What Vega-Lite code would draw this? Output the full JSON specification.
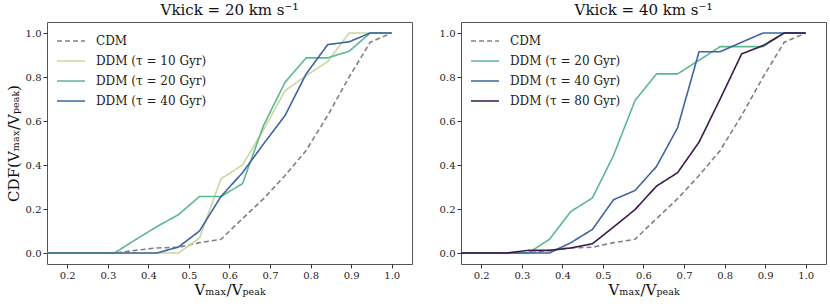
{
  "$schema": "https://vega.github.io/schema/vega-lite/v6.json",
  "padding": {"left": 5, "top": 2, "right": 4, "bottom": 2},
  "background": "white",
  "config": {
    "font": "DejaVu Serif",
    "view": {"stroke": "#555555", "strokeWidth": 1},
    "axis": {"grid": false, "domain": false, "tickColor": "#333333", "tickSize": 4, "labelFont": "DejaVu Serif", "titleFont": "DejaVu Serif", "labelFontSize": 10, "labelColor": "#222222", "titleFontSize": 15, "titleFontWeight": "normal", "titleColor": "#111111", "labelPadding": 2},
    "title": {"font": "DejaVu Serif", "fontSize": 15, "fontWeight": "normal", "color": "#111111", "offset": 4},
    "legend": {"orient": "top-left", "offset": 9, "padding": 0, "symbolType": "stroke", "symbolSize": 784, "clipHeight": 20, "rowPadding": 0, "labelFont": "DejaVu Serif", "labelFontSize": 12, "labelOffset": 10, "labelColor": "#222222", "symbolStrokeWidth": 1.6}
  },
  "bounds": "flush",
  "spacing": 49,
  "data": {"values": [
    {"p":"L","s":"CDM","x":0.105,"y":0},{"p":"L","s":"CDM","x":0.316,"y":0},{"p":"L","s":"CDM","x":0.368,"y":0.012},{"p":"L","s":"CDM","x":0.421,"y":0.023},{"p":"L","s":"CDM","x":0.474,"y":0.026},{"p":"L","s":"CDM","x":0.526,"y":0.047},{"p":"L","s":"CDM","x":0.579,"y":0.062},{"p":"L","s":"CDM","x":0.632,"y":0.156},{"p":"L","s":"CDM","x":0.684,"y":0.247},{"p":"L","s":"CDM","x":0.737,"y":0.352},{"p":"L","s":"CDM","x":0.789,"y":0.466},{"p":"L","s":"CDM","x":0.842,"y":0.625},{"p":"L","s":"CDM","x":0.895,"y":0.8},{"p":"L","s":"CDM","x":0.947,"y":0.958},{"p":"L","s":"CDM","x":1.0,"y":1.0},
    {"p":"L","s":"DDM (τ = 10 Gyr)","x":0.105,"y":0},{"p":"L","s":"DDM (τ = 10 Gyr)","x":0.474,"y":0},{"p":"L","s":"DDM (τ = 10 Gyr)","x":0.526,"y":0.068},{"p":"L","s":"DDM (τ = 10 Gyr)","x":0.579,"y":0.337},{"p":"L","s":"DDM (τ = 10 Gyr)","x":0.632,"y":0.4},{"p":"L","s":"DDM (τ = 10 Gyr)","x":0.684,"y":0.56},{"p":"L","s":"DDM (τ = 10 Gyr)","x":0.737,"y":0.738},{"p":"L","s":"DDM (τ = 10 Gyr)","x":0.789,"y":0.806},{"p":"L","s":"DDM (τ = 10 Gyr)","x":0.842,"y":0.87},{"p":"L","s":"DDM (τ = 10 Gyr)","x":0.895,"y":1.0},{"p":"L","s":"DDM (τ = 10 Gyr)","x":0.947,"y":1.0},{"p":"L","s":"DDM (τ = 10 Gyr)","x":1.0,"y":1.0},
    {"p":"L","s":"DDM (τ = 20 Gyr)","x":0.105,"y":0},{"p":"L","s":"DDM (τ = 20 Gyr)","x":0.316,"y":0},{"p":"L","s":"DDM (τ = 20 Gyr)","x":0.368,"y":0.06},{"p":"L","s":"DDM (τ = 20 Gyr)","x":0.421,"y":0.12},{"p":"L","s":"DDM (τ = 20 Gyr)","x":0.474,"y":0.174},{"p":"L","s":"DDM (τ = 20 Gyr)","x":0.526,"y":0.257},{"p":"L","s":"DDM (τ = 20 Gyr)","x":0.579,"y":0.257},{"p":"L","s":"DDM (τ = 20 Gyr)","x":0.632,"y":0.315},{"p":"L","s":"DDM (τ = 20 Gyr)","x":0.684,"y":0.58},{"p":"L","s":"DDM (τ = 20 Gyr)","x":0.737,"y":0.776},{"p":"L","s":"DDM (τ = 20 Gyr)","x":0.789,"y":0.887},{"p":"L","s":"DDM (τ = 20 Gyr)","x":0.842,"y":0.887},{"p":"L","s":"DDM (τ = 20 Gyr)","x":0.895,"y":0.917},{"p":"L","s":"DDM (τ = 20 Gyr)","x":0.947,"y":1.0},{"p":"L","s":"DDM (τ = 20 Gyr)","x":1.0,"y":1.0},
    {"p":"L","s":"DDM (τ = 40 Gyr)","x":0.105,"y":0},{"p":"L","s":"DDM (τ = 40 Gyr)","x":0.421,"y":0},{"p":"L","s":"DDM (τ = 40 Gyr)","x":0.474,"y":0.027},{"p":"L","s":"DDM (τ = 40 Gyr)","x":0.526,"y":0.1},{"p":"L","s":"DDM (τ = 40 Gyr)","x":0.579,"y":0.257},{"p":"L","s":"DDM (τ = 40 Gyr)","x":0.632,"y":0.365},{"p":"L","s":"DDM (τ = 40 Gyr)","x":0.684,"y":0.496},{"p":"L","s":"DDM (τ = 40 Gyr)","x":0.737,"y":0.625},{"p":"L","s":"DDM (τ = 40 Gyr)","x":0.789,"y":0.814},{"p":"L","s":"DDM (τ = 40 Gyr)","x":0.842,"y":0.947},{"p":"L","s":"DDM (τ = 40 Gyr)","x":0.895,"y":0.96},{"p":"L","s":"DDM (τ = 40 Gyr)","x":0.947,"y":1.0},{"p":"L","s":"DDM (τ = 40 Gyr)","x":1.0,"y":1.0},
    {"p":"R","s":"CDM","x":0.105,"y":0},{"p":"R","s":"CDM","x":0.316,"y":0},{"p":"R","s":"CDM","x":0.368,"y":0.012},{"p":"R","s":"CDM","x":0.421,"y":0.023},{"p":"R","s":"CDM","x":0.474,"y":0.026},{"p":"R","s":"CDM","x":0.526,"y":0.047},{"p":"R","s":"CDM","x":0.579,"y":0.062},{"p":"R","s":"CDM","x":0.632,"y":0.156},{"p":"R","s":"CDM","x":0.684,"y":0.247},{"p":"R","s":"CDM","x":0.737,"y":0.352},{"p":"R","s":"CDM","x":0.789,"y":0.466},{"p":"R","s":"CDM","x":0.842,"y":0.625},{"p":"R","s":"CDM","x":0.895,"y":0.8},{"p":"R","s":"CDM","x":0.947,"y":0.958},{"p":"R","s":"CDM","x":1.0,"y":1.0},
    {"p":"R","s":"DDM (τ = 20 Gyr)","x":0.105,"y":0},{"p":"R","s":"DDM (τ = 20 Gyr)","x":0.316,"y":0},{"p":"R","s":"DDM (τ = 20 Gyr)","x":0.368,"y":0.062},{"p":"R","s":"DDM (τ = 20 Gyr)","x":0.421,"y":0.189},{"p":"R","s":"DDM (τ = 20 Gyr)","x":0.474,"y":0.25},{"p":"R","s":"DDM (τ = 20 Gyr)","x":0.526,"y":0.443},{"p":"R","s":"DDM (τ = 20 Gyr)","x":0.579,"y":0.693},{"p":"R","s":"DDM (τ = 20 Gyr)","x":0.632,"y":0.814},{"p":"R","s":"DDM (τ = 20 Gyr)","x":0.684,"y":0.814},{"p":"R","s":"DDM (τ = 20 Gyr)","x":0.737,"y":0.876},{"p":"R","s":"DDM (τ = 20 Gyr)","x":0.789,"y":0.938},{"p":"R","s":"DDM (τ = 20 Gyr)","x":0.842,"y":0.938},{"p":"R","s":"DDM (τ = 20 Gyr)","x":0.895,"y":0.938},{"p":"R","s":"DDM (τ = 20 Gyr)","x":0.947,"y":1.0},{"p":"R","s":"DDM (τ = 20 Gyr)","x":1.0,"y":1.0},
    {"p":"R","s":"DDM (τ = 40 Gyr)","x":0.105,"y":0},{"p":"R","s":"DDM (τ = 40 Gyr)","x":0.368,"y":0},{"p":"R","s":"DDM (τ = 40 Gyr)","x":0.421,"y":0.047},{"p":"R","s":"DDM (τ = 40 Gyr)","x":0.474,"y":0.107},{"p":"R","s":"DDM (τ = 40 Gyr)","x":0.526,"y":0.242},{"p":"R","s":"DDM (τ = 40 Gyr)","x":0.579,"y":0.284},{"p":"R","s":"DDM (τ = 40 Gyr)","x":0.632,"y":0.393},{"p":"R","s":"DDM (τ = 40 Gyr)","x":0.684,"y":0.569},{"p":"R","s":"DDM (τ = 40 Gyr)","x":0.737,"y":0.915},{"p":"R","s":"DDM (τ = 40 Gyr)","x":0.789,"y":0.915},{"p":"R","s":"DDM (τ = 40 Gyr)","x":0.842,"y":0.958},{"p":"R","s":"DDM (τ = 40 Gyr)","x":0.895,"y":1.0},{"p":"R","s":"DDM (τ = 40 Gyr)","x":0.947,"y":1.0},{"p":"R","s":"DDM (τ = 40 Gyr)","x":1.0,"y":1.0},
    {"p":"R","s":"DDM (τ = 80 Gyr)","x":0.105,"y":0},{"p":"R","s":"DDM (τ = 80 Gyr)","x":0.263,"y":0},{"p":"R","s":"DDM (τ = 80 Gyr)","x":0.316,"y":0.012},{"p":"R","s":"DDM (τ = 80 Gyr)","x":0.368,"y":0.012},{"p":"R","s":"DDM (τ = 80 Gyr)","x":0.421,"y":0.023},{"p":"R","s":"DDM (τ = 80 Gyr)","x":0.474,"y":0.042},{"p":"R","s":"DDM (τ = 80 Gyr)","x":0.526,"y":0.118},{"p":"R","s":"DDM (τ = 80 Gyr)","x":0.579,"y":0.197},{"p":"R","s":"DDM (τ = 80 Gyr)","x":0.632,"y":0.304},{"p":"R","s":"DDM (τ = 80 Gyr)","x":0.684,"y":0.365},{"p":"R","s":"DDM (τ = 80 Gyr)","x":0.737,"y":0.504},{"p":"R","s":"DDM (τ = 80 Gyr)","x":0.789,"y":0.7},{"p":"R","s":"DDM (τ = 80 Gyr)","x":0.842,"y":0.905},{"p":"R","s":"DDM (τ = 80 Gyr)","x":0.895,"y":0.943},{"p":"R","s":"DDM (τ = 80 Gyr)","x":0.947,"y":1.0},{"p":"R","s":"DDM (τ = 80 Gyr)","x":1.0,"y":1.0}
  ]},
  "resolve": {"scale": {"color": "independent", "strokeDash": "independent"}, "legend": {"color": "independent", "strokeDash": "independent"}},
  "hconcat": [
    {
      "width": 365, "height": 242,
      "title": "Vkick = 20 km s⁻¹",
      "transform": [{"filter": "datum.p === 'L'"}],
      "mark": {"type": "line", "strokeWidth": 1.6, "clip": true},
      "encoding": {
        "x": {"field": "x", "type": "quantitative", "scale": {"domain": [0.15, 1.05], "nice": false, "zero": false}, "axis": {"values": [0.2,0.3,0.4,0.5,0.6,0.7,0.8,0.9,1.0], "format": ".1f", "title": "Vₘₐₓ/Vₚₑₐₖ", "titlePadding": 2}},
        "y": {"field": "y", "type": "quantitative", "scale": {"domain": [-0.05, 1.05], "nice": false, "zero": false}, "axis": {"values": [0,0.2,0.4,0.6,0.8,1.0], "format": ".1f", "title": "CDF(Vₘₐₓ/Vₚₑₐₖ)", "titlePadding": 4}},
        "color": {"field": "s", "type": "nominal", "title": null, "scale": {"domain": ["CDM","DDM (τ = 10 Gyr)","DDM (τ = 20 Gyr)","DDM (τ = 40 Gyr)"], "range": ["#808080","#c6d9a0","#5cb88d","#3f64a0"]}},
        "strokeDash": {"field": "s", "type": "nominal", "title": null, "scale": {"domain": ["CDM","DDM (τ = 10 Gyr)","DDM (τ = 20 Gyr)","DDM (τ = 40 Gyr)"], "range": [[5,3],[1,0],[1,0],[1,0]]}}
      }
    },
    {
      "width": 365, "height": 242,
      "title": "Vkick = 40 km s⁻¹",
      "transform": [{"filter": "datum.p === 'R'"}],
      "mark": {"type": "line", "strokeWidth": 1.6, "clip": true},
      "encoding": {
        "x": {"field": "x", "type": "quantitative", "scale": {"domain": [0.15, 1.05], "nice": false, "zero": false}, "axis": {"values": [0.2,0.3,0.4,0.5,0.6,0.7,0.8,0.9,1.0], "format": ".1f", "title": "Vₘₐₓ/Vₚₑₐₖ", "titlePadding": 2}},
        "y": {"field": "y", "type": "quantitative", "scale": {"domain": [-0.05, 1.05], "nice": false, "zero": false}, "axis": {"values": [0,0.2,0.4,0.6,0.8,1.0], "format": ".1f", "title": null}},
        "color": {"field": "s", "type": "nominal", "title": null, "scale": {"domain": ["CDM","DDM (τ = 20 Gyr)","DDM (τ = 40 Gyr)","DDM (τ = 80 Gyr)"], "range": ["#808080","#5cb88d","#3f64a0","#3d1a48"]}},
        "strokeDash": {"field": "s", "type": "nominal", "title": null, "scale": {"domain": ["CDM","DDM (τ = 20 Gyr)","DDM (τ = 40 Gyr)","DDM (τ = 80 Gyr)"], "range": [[5,3],[1,0],[1,0],[1,0]]}}
      }
    }
  ]
}
